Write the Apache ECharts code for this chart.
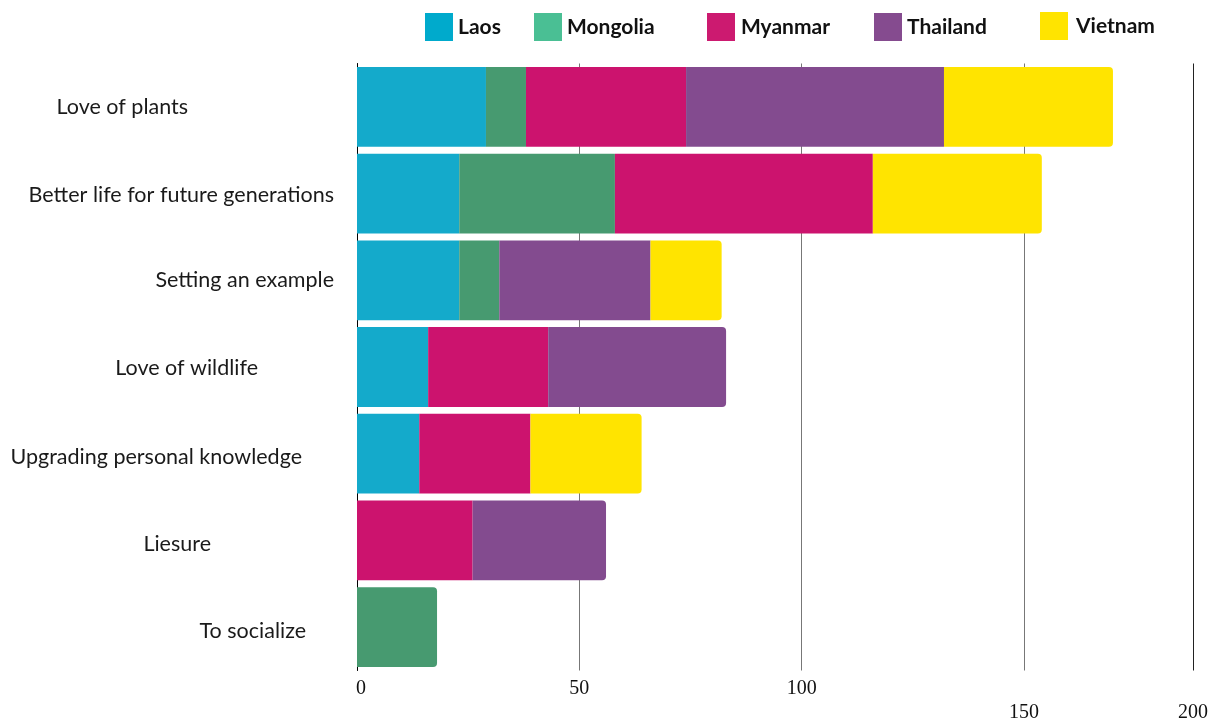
<!DOCTYPE html>
<html>
<head>
<meta charset="utf-8">
<script src="https://cdn.jsdelivr.net/npm/echarts@6/dist/echarts.min.js"></script>
<style>html,body{margin:0;padding:0;background:#fff}#c{width:1208px;height:722px}</style>
</head>
<body>
<div id="c"></div>
<script>
const categories = ["Love of plants", "Better life for future generations", "Setting an example", "Love of wildlife", "Upgrading personal knowledge", "Liesure", "To socialize"];
const countries = ["Laos", "Mongolia", "Myanmar", "Thailand", "Vietnam"];
const laos     = [29, 23, 23, 16, 14, 0, 0];
const mongolia = [9, 35, 9, 0, 0, 0, 18];
const myanmar  = [36, 58, 0, 27, 25, 26, 0];
const thailand = [58, 0, 34, 40, 0, 30, 0];
const vietnam  = [38, 38, 16, 0, 25, 0, 0];
const tickLabels = ["0", "50", "100", "150", "200"];

const seriesValues = [laos, mongolia, myanmar, thailand, vietnam];
const barColors = ["#14aacb", "#479a70", "#cc136e", "#834b8f", "#ffe400"];
const legendColors = ["#00aacc", "#4abf94", "#cc1a70", "#854b8f", "#ffe400"];
const legendLeft = [425, 534, 707, 874, 1040];
const legendTop = [13, 13, 13, 13, 12];
const legendTextPad = [0, 0, 1, 0, 3];
const labelPad = [146, 0, 0, 76, 32, 123, 28];
const labelDown = [0, 2, 0, 2, 6, 8, 8];

const rich = {};
labelPad.forEach((p, i) => {
  rich['c' + i] = { fontFamily: 'Lato', fontSize: 21.5, color: '#1a1a1a', padding: [labelDown[i], p, 0, 0] };
});

const lastIdx = categories.map((_, ci) => {
  let l = -1;
  seriesValues.forEach((arr, si) => { if (arr[ci] > 0) l = si; });
  return l;
});

const series = countries.map((name, si) => ({
  name: name,
  type: 'bar',
  stack: 'total',
  barCategoryGap: '8%',
  itemStyle: { color: barColors[si] },
  emphasis: { disabled: true },
  data: seriesValues[si].map((v, ci) => lastIdx[ci] === si
    ? { value: v, itemStyle: { borderRadius: [0, 4, 4, 0] } }
    : v)
}));

const legends = countries.map((name, i) => ({
  left: legendLeft[i],
  top: legendTop[i],
  padding: 0,
  itemWidth: 28,
  itemHeight: 28,
  itemGap: 0,
  icon: 'rect',
  textStyle: { fontFamily: 'Lato', fontWeight: 'bold', fontSize: 21, color: '#111', padding: [0, 0, 0, legendTextPad[i]] },
  data: [{ name: name, itemStyle: { color: legendColors[i] } }]
}));

const chart = echarts.init(document.getElementById('c'), null, { renderer: 'canvas' });
chart.setOption({
  animation: false,
  backgroundColor: '#fff',
  legend: legends,
  grid: { left: 357, right: 15, top: 63.5, bottom: 51.5, containLabel: false, outerBoundsMode: 'none' },
  xAxis: {
    type: 'value',
    min: 0,
    max: 188,
    interval: 50,
    axisLine: { show: false },
    axisTick: { show: false },
    splitLine: { show: true, lineStyle: { color: ['#777', '#777', '#777', '#777', '#222'], width: 1 } },
    axisLabel: {
      showMaxLabel: true,
      margin: 8,
      fontFamily: 'Liberation Serif',
      fontSize: 20,
      color: '#111',
      formatter: (v, i) => i >= 3 ? '{low|' + tickLabels[i] + '}' : (i === 0 ? '{zero|' + tickLabels[i] + '}' : tickLabels[i]),
      rich: {
        low: { fontFamily: 'Liberation Serif', fontSize: 20, color: '#111', padding: [24, 0, 0, 0] },
        zero: { fontFamily: 'Liberation Serif', fontSize: 20, color: '#111', padding: [0, 0, 0, 8] }
      }
    }
  },
  yAxis: {
    type: 'category',
    inverse: true,
    data: categories,
    axisLine: { show: true, lineStyle: { color: '#000', width: 1 } },
    axisTick: { show: false },
    axisLabel: {
      margin: 23,
      formatter: (v) => '{c' + categories.indexOf(v) + '|' + v + '}',
      rich: rich
    }
  },
  series: series
});
</script>
</body>
</html>
